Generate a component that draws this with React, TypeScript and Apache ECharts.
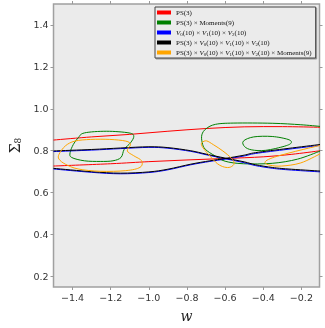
import React, { useEffect, useRef } from "react";
import * as echarts from "echarts";

const xTicks = [-1.4, -1.2, -1.0, -0.8, -0.6, -0.4, -0.2];
const yTicks = [0.2, 0.4, 0.6, 0.8, 1.0, 1.2, 1.4];

const legendNames = [
  "PS(3)",
  "PS(3) x Moments(9)",
  "V0 x V1 x V2",
  "PS(3) x V0 x V1 x V2",
  "PS(3) x V0 x V1 x V2 x Moments(9)",
];
const legendRich = [
  "{t|PS(3)}",
  "{t|PS(3) × Moments(9)}",
  "{i|V}{s|0}{t|(10) × }{i|V}{s|1}{t|(10) × }{i|V}{s|2}{t|(10)}",
  "{t|PS(3) × }{i|V}{s|0}{t|(10) × }{i|V}{s|1}{t|(10) × }{i|V}{s|2}{t|(10)}",
  "{t|PS(3) × }{i|V}{s|0}{t|(10) × }{i|V}{s|1}{t|(10) × }{i|V}{s|2}{t|(10) × Moments(9)}",
];

// PS(3) – red
const redUpper = [[-1.5, 0.851], [-1.3, 0.866], [-1.1, 0.878], [-0.9, 0.893], [-0.7, 0.906], [-0.5, 0.914], [-0.3, 0.915], [-0.1, 0.912]];
const redLower = [[-1.5, 0.727], [-1.2, 0.738], [-1.0, 0.748], [-0.8, 0.756], [-0.6, 0.763], [-0.4, 0.771], [-0.25, 0.783], [-0.1, 0.800]];

// PS(3) x Moments(9) – green
const greenLeft = [[-1.338, 0.885], [-1.221, 0.893], [-1.104, 0.885], [-1.079, 0.869], [-1.096, 0.838], [-1.129, 0.807], [-1.146, 0.768], [-1.188, 0.752], [-1.255, 0.749], [-1.338, 0.752], [-1.405, 0.768], [-1.413, 0.791], [-1.396, 0.830], [-1.371, 0.861]];
const greenRightBig = [[-0.1, 0.916], [-0.203, 0.924], [-0.353, 0.931], [-0.554, 0.932], [-0.650, 0.926], [-0.700, 0.905], [-0.722, 0.876], [-0.720, 0.838], [-0.704, 0.807], [-0.654, 0.776], [-0.600, 0.750], [-0.504, 0.738], [-0.353, 0.740], [-0.220, 0.760], [-0.1, 0.799]];
const greenRightSmall = [[-0.504, 0.846], [-0.450, 0.866], [-0.353, 0.868], [-0.270, 0.854], [-0.253, 0.838], [-0.287, 0.822], [-0.387, 0.802], [-0.460, 0.804], [-0.498, 0.820]];

// V0 x V1 x V2 – blue (two branches crossing near w = -0.6)
const blueA = [[-1.5, 0.796], [-1.3, 0.803], [-1.15, 0.810], [-1.0, 0.816], [-0.9, 0.812], [-0.78, 0.797], [-0.7, 0.781], [-0.6, 0.762], [-0.5, 0.743], [-0.44, 0.729], [-0.35, 0.716], [-0.27, 0.709], [-0.1, 0.699]];
const blueB = [[-1.5, 0.713], [-1.3, 0.697], [-1.15, 0.690], [-1.0, 0.696], [-0.9, 0.709], [-0.78, 0.733], [-0.68, 0.749], [-0.6, 0.760], [-0.5, 0.775], [-0.44, 0.787], [-0.27, 0.807], [-0.1, 0.826]];

// PS(3) x V0 x V1 x V2 – black
const blackA = [[-1.5, 0.799], [-1.3, 0.806], [-1.15, 0.813], [-1.0, 0.819], [-0.9, 0.815], [-0.78, 0.800], [-0.7, 0.784], [-0.6, 0.765], [-0.5, 0.747], [-0.44, 0.733], [-0.35, 0.720], [-0.27, 0.713], [-0.1, 0.703]];
const blackB = [[-1.5, 0.716], [-1.3, 0.700], [-1.15, 0.693], [-1.0, 0.699], [-0.9, 0.712], [-0.78, 0.736], [-0.68, 0.752], [-0.6, 0.763], [-0.5, 0.779], [-0.44, 0.791], [-0.27, 0.811], [-0.1, 0.830]];

// PS(3) x V0 x V1 x V2 x Moments(9) – orange
const orangeLeft = [[-1.471, 0.783], [-1.438, 0.823], [-1.388, 0.846], [-1.305, 0.854], [-1.205, 0.854], [-1.121, 0.846], [-1.096, 0.830], [-1.113, 0.799], [-1.079, 0.776], [-1.038, 0.752], [-1.046, 0.721], [-1.121, 0.705], [-1.255, 0.702], [-1.371, 0.713], [-1.438, 0.736], [-1.471, 0.760]];
const orangeMid = [[-0.720, 0.840], [-0.697, 0.847], [-0.660, 0.828], [-0.612, 0.799], [-0.568, 0.765], [-0.552, 0.740], [-0.572, 0.722], [-0.604, 0.722], [-0.640, 0.738], [-0.679, 0.774], [-0.710, 0.807], [-0.724, 0.828]];
const orangeRight = [[-0.1, 0.826], [-0.187, 0.807], [-0.270, 0.788], [-0.340, 0.770], [-0.380, 0.755], [-0.390, 0.742], [-0.365, 0.731], [-0.303, 0.727], [-0.203, 0.742], [-0.1, 0.786]];

const colors = ["#ff0000", "#008000", "#0000ff", "#000000", "#ffa500"];

const fmt = (v: number) => v.toFixed(1).replace("-", "\u2212");

// Catmull-Rom spline through pixel points -> SVG path data
function splinePath(p: number[][], closed: boolean) {
  const n = p.length;
  const get = (i: number) => {
    if (closed) return p[((i % n) + n) % n];
    return p[Math.max(0, Math.min(n - 1, i))];
  };
  let d = `M${p[0][0]},${p[0][1]}`;
  const segs = closed ? n : n - 1;
  for (let i = 0; i < segs; i++) {
    const p0 = get(i - 1), p1 = get(i), p2 = get(i + 1), p3 = get(i + 2);
    const c1x = p1[0] + (p2[0] - p0[0]) / 6;
    const c1y = p1[1] + (p2[1] - p0[1]) / 6;
    const c2x = p2[0] - (p3[0] - p1[0]) / 6;
    const c2y = p2[1] - (p3[1] - p1[1]) / 6;
    d += ` C${c1x},${c1y} ${c2x},${c2y} ${p2[0]},${p2[1]}`;
  }
  if (closed) d += " Z";
  return d;
}

export default function App() {
  const ref = useRef<HTMLDivElement>(null);
  useEffect(() => {
    if (!ref.current) return;
    const chart = echarts.init(ref.current, undefined, { renderer: "svg" });
    const curve = (name: string, color: string, data: number[][], closed: boolean, z: number) => ({
      name,
      type: "custom",
      data,
      encode: { x: 0, y: 1 },
      clip: true,
      z,
      silent: true,
      itemStyle: { color },
      renderItem: (params: any, api: any) => {
        if (params.dataIndex !== 0) return null;
        const pts = data.map((pt) => api.coord(pt));
        return {
          type: "path",
          shape: { pathData: splinePath(pts, closed) },
          style: { fill: "none", stroke: color, lineWidth: 1 },
        };
      },
    });
    const series = [
      curve(legendNames[0], colors[0], redUpper, false, 2),
      curve(legendNames[0], colors[0], redLower, false, 2),
      curve(legendNames[1], colors[1], greenLeft, true, 3),
      curve(legendNames[1], colors[1], greenRightBig, false, 3),
      curve(legendNames[1], colors[1], greenRightSmall, true, 3),
      curve(legendNames[2], colors[2], blueA, false, 4),
      curve(legendNames[2], colors[2], blueB, false, 4),
      curve(legendNames[3], colors[3], blackA, false, 5),
      curve(legendNames[3], colors[3], blackB, false, 5),
      curve(legendNames[4], colors[4], orangeLeft, true, 6),
      curve(legendNames[4], colors[4], orangeMid, true, 6),
      curve(legendNames[4], colors[4], orangeRight, false, 6),
    ];
    const axisCommon = {
      type: "value",
      splitLine: { show: false },
      axisLine: { show: false },
      axisTick: { show: true, inside: false, length: 3, lineStyle: { color: "#999", width: 1 } },
    };
    const serif = "Liberation Serif";
    chart.setOption({
      animation: false,
      grid: {
        left: 41,
        right: 5.5,
        top: 4,
        bottom: 36,
        show: true,
        backgroundColor: "#ebebeb",
        borderColor: "#a0a0a0",
        borderWidth: 1.5,
      },
      legend: {
        data: legendNames.map((n, i) => ({ name: n, itemStyle: { color: colors[i] } })),
        orient: "vertical",
        left: 155,
        top: 7,
        itemWidth: 14,
        itemHeight: 4,
        itemGap: 1,
        padding: [1, 4, 1, 2],
        icon: "rect",
        backgroundColor: "#ebebeb",
        borderColor: "#444",
        borderWidth: 1,
        shadowColor: "rgba(0,0,0,0.35)",
        shadowOffsetX: 1,
        shadowOffsetY: 1,
        shadowBlur: 0,
        formatter: (name: string) => legendRich[legendNames.indexOf(name)],
        textStyle: {
          fontFamily: serif,
          fontSize: 7,
          color: "#111",
          lineHeight: 9,
          rich: {
            t: { fontFamily: serif, fontSize: 7, color: "#111", lineHeight: 9 },
            i: { fontFamily: serif, fontStyle: "italic", fontSize: 7, color: "#111", lineHeight: 9 },
            s: { fontFamily: serif, fontSize: 5, color: "#111", lineHeight: 9, verticalAlign: "bottom" },
          },
        },
      },
      xAxis: [
        {
          ...axisCommon,
          position: "bottom",
          min: -1.5,
          max: -0.105,
          axisTick: { ...axisCommon.axisTick, customValues: xTicks },
          axisLabel: {
            customValues: xTicks,
            formatter: fmt,
            fontFamily: "DejaVu Sans",
            fontSize: 9.5,
            color: "#333",
            margin: 5,
          },
          name: "w",
          nameLocation: "middle",
          nameGap: 22,
          nameTextStyle: { fontFamily: "DejaVu Serif", fontStyle: "italic", fontSize: 14, color: "#222" },
        },
        {
          ...axisCommon,
          position: "top",
          min: -1.5,
          max: -0.105,
          axisTick: { ...axisCommon.axisTick, customValues: xTicks },
          axisLabel: { show: false },
        },
      ],
      yAxis: [
        {
          ...axisCommon,
          position: "left",
          min: 0.15,
          max: 1.5,
          axisTick: { ...axisCommon.axisTick, customValues: yTicks },
          axisLabel: {
            customValues: yTicks,
            formatter: fmt,
            fontFamily: "DejaVu Sans",
            fontSize: 9.5,
            color: "#333",
            margin: 5,
          },
          name: "{a|\u03a3}{b|8}",
          nameLocation: "middle",
          nameRotate: 90,
          nameGap: 29,
          nameTextStyle: {
            rich: {
              a: { fontFamily: "DejaVu Serif", fontSize: 14, color: "#222" },
              b: { fontFamily: "DejaVu Serif", fontSize: 9, color: "#222", padding: [6, 0, 0, 0] },
            },
          },
        },
        {
          ...axisCommon,
          position: "right",
          min: 0.15,
          max: 1.5,
          axisTick: { ...axisCommon.axisTick, customValues: yTicks },
          axisLabel: { show: false },
        },
      ],
      series,
    });
    return () => chart.dispose();
  }, []);
  return <div ref={ref} style={{ position: "fixed", left: 0, top: 0, width: 325, height: 328 }} />;
}
